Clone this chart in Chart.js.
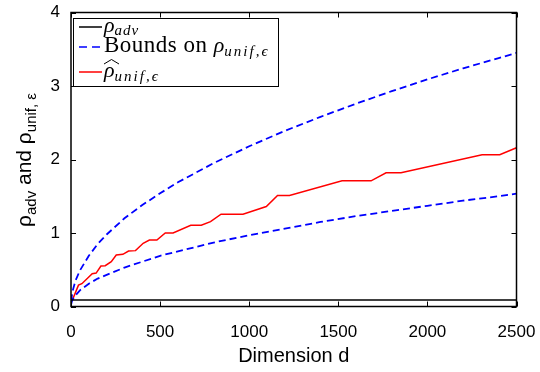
<!DOCTYPE html>
<html><head><meta charset="utf-8">
<script src="https://cdn.jsdelivr.net/npm/chart.js@4"></script>
<style>html,body{margin:0;padding:0;background:#fff}#wrap{width:540px;height:372px}</style>
</head><body><div id="wrap"><canvas id="c" width="540" height="372"></canvas></div>
<script>
// ---- data ----
const xTicks = [0, 500, 1000, 1500, 2000, 2500];
const yTicks = [0, 1, 2, 3, 4];

const rhoAdvD = [0, 2500];
const rhoAdvV = [0.09, 0.09];

const boundD = [1, 5, 10, 25, 50, 100, 150, 200, 300, 400, 500, 600, 800, 1000, 1200, 1400, 1600, 1800, 2000, 2200, 2400, 2500];
const upperV = [0.07, 0.15, 0.22, 0.35, 0.49, 0.69, 0.85, 0.98, 1.2, 1.38, 1.54, 1.69, 1.95, 2.18, 2.39, 2.58, 2.76, 2.93, 3.09, 3.24, 3.38, 3.45];
const lowerV = [0.03, 0.07, 0.1, 0.15, 0.22, 0.31, 0.38, 0.43, 0.53, 0.61, 0.69, 0.75, 0.87, 0.97, 1.06, 1.15, 1.23, 1.3, 1.37, 1.44, 1.5, 1.535];

const rhoHatD = [1, 10, 42, 61, 119, 141, 168, 192, 226, 254, 291, 323, 362, 405, 440, 482, 529, 573, 672, 731, 783, 842, 965, 1096, 1159, 1226, 1521, 1684, 1768, 1852, 2307, 2406, 2500];
const rhoHatV = [0.08, 0.10, 0.29, 0.31, 0.445, 0.455, 0.55, 0.555, 0.61, 0.70, 0.71, 0.755, 0.76, 0.86, 0.905, 0.905, 1.0, 1.0, 1.105, 1.105, 1.155, 1.255, 1.255, 1.36, 1.51, 1.51, 1.71, 1.71, 1.82, 1.82, 2.065, 2.065, 2.16];

const pts = (xs, ys) => xs.map((v, i) => ({x: v, y: ys[i]}));

const SANS = "'Liberation Sans', Arial, Helvetica, sans-serif";
const SERIF = "'Liberation Serif', 'Times New Roman', serif";

function drawRuns(ctx, x, y, runs) {
  let cx = x;
  runs.forEach(r => {
    ctx.font = r.font;
    ctx.letterSpacing = r.ls || '0px';
    ctx.fillText(r.t, cx, y + (r.dy || 0));
    cx += ctx.measureText(r.t).width;
  });
  ctx.letterSpacing = '0px';
  return cx - x;
}
function measureRuns(ctx, runs) {
  let w = 0;
  runs.forEach(r => { ctx.font = r.font; ctx.letterSpacing = r.ls || '0px'; w += ctx.measureText(r.t).width; });
  ctx.letterSpacing = '0px';
  return w;
}

const decor = {
  id: 'decor',
  afterDraw(chart) {
    const {ctx, chartArea: a, scales: {x, y}} = chart;
    ctx.save();
    ctx.setLineDash([]);
    ctx.strokeStyle = '#000';
    ctx.fillStyle = '#000';
    // frame
    ctx.lineWidth = 1.5;
    ctx.strokeRect(a.left, a.top, a.right - a.left, a.bottom - a.top);
    // inward ticks
    ctx.lineWidth = 1;
    const tl = 5;
    ctx.beginPath();
    xTicks.forEach(v => {
      const px = Math.round(x.getPixelForValue(v)) + 0.5;
      ctx.moveTo(px, a.bottom); ctx.lineTo(px, a.bottom - tl);
      ctx.moveTo(px, a.top); ctx.lineTo(px, a.top + tl);
    });
    yTicks.forEach(v => {
      const py = Math.round(y.getPixelForValue(v)) + 0.5;
      ctx.moveTo(a.left, py); ctx.lineTo(a.left + tl, py);
      ctx.moveTo(a.right, py); ctx.lineTo(a.right - tl, py);
    });
    ctx.stroke();

    // legend box
    const lx = 73, ly = 18, lw = 205, lh = 68;
    ctx.fillStyle = '#fff';
    ctx.fillRect(lx, ly, lw, lh);
    ctx.strokeStyle = '#000';
    ctx.lineWidth = 1;
    ctx.strokeRect(lx + 0.5, ly + 0.5, lw, lh);
    const s0 = 79, s1 = 102;
    // sample lines
    ctx.lineWidth = 1.5;
    ctx.strokeStyle = '#000';
    ctx.beginPath(); ctx.moveTo(s0, 27); ctx.lineTo(s1, 27); ctx.stroke();
    ctx.strokeStyle = '#0000ff';
    ctx.setLineDash([8, 5]);
    ctx.beginPath(); ctx.moveTo(s0, 47); ctx.lineTo(s1, 47); ctx.stroke();
    ctx.setLineDash([]);
    ctx.strokeStyle = '#ff0000';
    ctx.beginPath(); ctx.moveTo(s0, 72); ctx.lineTo(s1, 72); ctx.stroke();
    // legend text
    ctx.fillStyle = '#000';
    ctx.textBaseline = 'alphabetic';
    ctx.textAlign = 'left';
    const rhoF = 'italic 22px ' + SERIF;
    const subF = 'italic 15px ' + SERIF;
    drawRuns(ctx, 104, 32, [{t: 'ρ', font: rhoF}, {t: 'adv', font: subF, dy: 3, ls: '1px'}]);
    drawRuns(ctx, 104, 52, [{t: 'Bounds on ', font: '23px ' + SERIF, ls: '0.5px'}, {t: 'ρ', font: rhoF}, {t: 'unif,ϵ', font: subF, dy: 4, ls: '2px'}]);
    drawRuns(ctx, 104, 77, [{t: 'ρ', font: rhoF}, {t: 'unif,ϵ', font: subF, dy: 4, ls: '2px'}]);
    // wide hat over rho
    ctx.strokeStyle = '#000';
    ctx.lineWidth = 1;
    ctx.beginPath(); ctx.moveTo(104, 64); ctx.lineTo(111.5, 59.5); ctx.lineTo(119, 64); ctx.stroke();

    // x axis title
    ctx.font = '20px ' + SANS;
    ctx.textAlign = 'center';
    ctx.fillText('Dimension d', (a.left + a.right) / 2, 362);

    // y axis title (rotated)
    ctx.textAlign = 'left';
    const mainF = '21px ' + SANS, sF = '15px ' + SANS;
    const yRuns = [{t: 'ρ', font: mainF}, {t: 'adv', font: sF, dy: 5}, {t: ' and ', font: mainF}, {t: 'ρ', font: mainF}, {t: 'unif, ε', font: sF, dy: 5}];
    const w = measureRuns(ctx, yRuns);
    ctx.translate(31, 160);
    ctx.rotate(-Math.PI / 2);
    drawRuns(ctx, -w / 2, 0, yRuns);
    ctx.restore();
  }
};

new Chart(document.getElementById('c'), {
  type: 'line',
  data: {
    datasets: [
      {label: 'rho_adv', data: pts(rhoAdvD, rhoAdvV), borderColor: '#000000', borderWidth: 1.5},
      {label: 'upper bound', data: pts(boundD, upperV), borderColor: '#0000ff', borderWidth: 1.8, borderDash: [7, 4]},
      {label: 'lower bound', data: pts(boundD, lowerV), borderColor: '#0000ff', borderWidth: 1.8, borderDash: [7, 4]},
      {label: 'rho_hat', data: pts(rhoHatD, rhoHatV), borderColor: '#ff0000', borderWidth: 1.5}
    ]
  },
  options: {
    responsive: false,
    animation: false,
    devicePixelRatio: 1,
    parsing: false,
    elements: {point: {radius: 0}, line: {tension: 0, fill: false}},
    layout: {padding: {top: 12.5, right: 23.5, left: 0, bottom: 0}},
    plugins: {legend: {display: false}, tooltip: {enabled: false}, title: {display: false}},
    scales: {
      x: {
        type: 'linear', min: 0, max: 2500,
        afterBuildTicks: s => { s.ticks = xTicks.map(v => ({value: v})); },
        afterFit: s => { s.height = 65.5; s.paddingLeft = 0; s.paddingRight = 0; },
        grid: {display: false, drawTicks: false},
        border: {display: false},
        ticks: {color: '#000', padding: 16, font: {family: SANS, size: 17}, maxRotation: 0, autoSkip: false,
                callback: v => String(v)}
      },
      y: {
        type: 'linear', min: 0, max: 4,
        afterBuildTicks: s => { s.ticks = yTicks.map(v => ({value: v})); },
        afterFit: s => { s.width = 71; s.paddingTop = 0; s.paddingBottom = 0; },
        grid: {display: false, drawTicks: false},
        border: {display: false},
        ticks: {color: '#000', padding: 11, font: {family: SANS, size: 17}, callback: v => String(v)}
      }
    }
  },
  plugins: [decor]
});
</script>
</body></html>
